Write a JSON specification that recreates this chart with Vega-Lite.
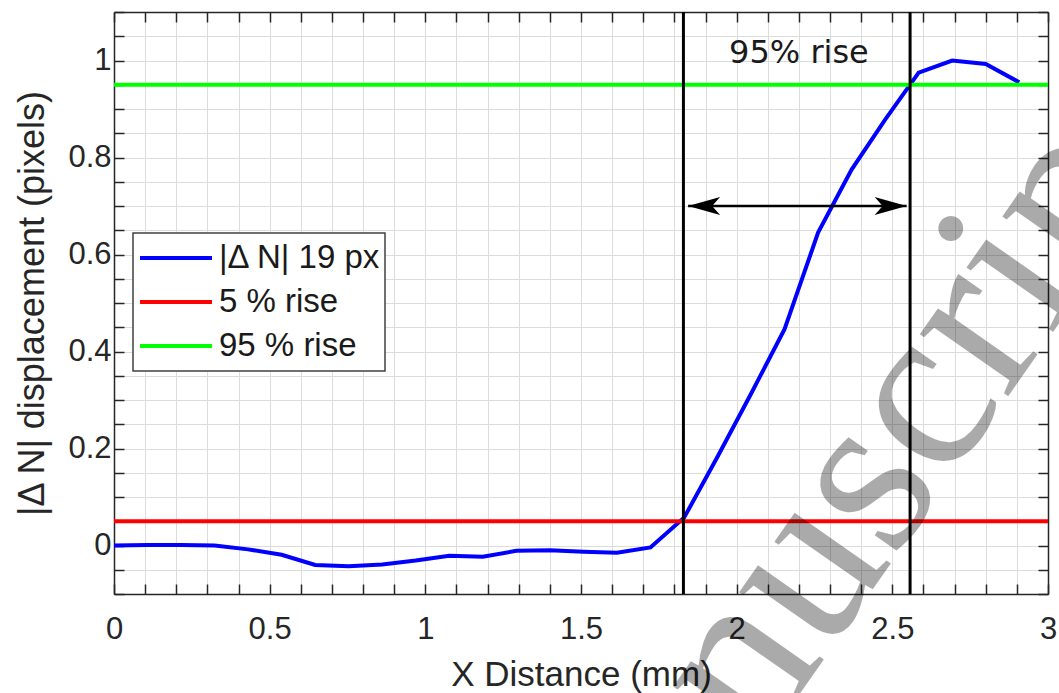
{
  "$schema": "https://vega.github.io/schema/vega-lite/v6.json",
  "autosize": "none",
  "width": 934,
  "height": 582,
  "padding": {"left": 114, "top": 12, "right": 11, "bottom": 99},
  "background": "white",
  "config": {
    "view": {"stroke": null},
    "axis": {
      "labelFont": "Liberation Sans",
      "labelFontSize": 31,
      "labelColor": "#262626",
      "titleFont": "Liberation Sans",
      "titleFontSize": 35,
      "titleFontWeight": "normal",
      "titleColor": "#262626",
      "domainColor": "#262626",
      "domainWidth": 1.5,
      "tickColor": "#262626",
      "tickWidth": 1.5,
      "tickSize": -10,
      "gridColor": "#dcdcdc",
      "gridWidth": 1
    }
  },
  "datasets": {
    "curves": [
      {"series": "|Δ N| 19 px", "x": 0.0, "y": 0.0},
      {"series": "|Δ N| 19 px", "x": 0.1077, "y": 0.001},
      {"series": "|Δ N| 19 px", "x": 0.2154, "y": 0.001},
      {"series": "|Δ N| 19 px", "x": 0.3231, "y": 0.0},
      {"series": "|Δ N| 19 px", "x": 0.4308, "y": -0.008},
      {"series": "|Δ N| 19 px", "x": 0.5385, "y": -0.019},
      {"series": "|Δ N| 19 px", "x": 0.6462, "y": -0.04},
      {"series": "|Δ N| 19 px", "x": 0.7538, "y": -0.043},
      {"series": "|Δ N| 19 px", "x": 0.8615, "y": -0.039},
      {"series": "|Δ N| 19 px", "x": 0.9692, "y": -0.031},
      {"series": "|Δ N| 19 px", "x": 1.0769, "y": -0.021},
      {"series": "|Δ N| 19 px", "x": 1.1846, "y": -0.023},
      {"series": "|Δ N| 19 px", "x": 1.2923, "y": -0.011},
      {"series": "|Δ N| 19 px", "x": 1.4, "y": -0.01},
      {"series": "|Δ N| 19 px", "x": 1.5077, "y": -0.013},
      {"series": "|Δ N| 19 px", "x": 1.6154, "y": -0.015},
      {"series": "|Δ N| 19 px", "x": 1.7231, "y": -0.004},
      {"series": "|Δ N| 19 px", "x": 1.8308, "y": 0.057},
      {"series": "|Δ N| 19 px", "x": 1.9385, "y": 0.183},
      {"series": "|Δ N| 19 px", "x": 2.0462, "y": 0.313},
      {"series": "|Δ N| 19 px", "x": 2.1538, "y": 0.446},
      {"series": "|Δ N| 19 px", "x": 2.2615, "y": 0.645},
      {"series": "|Δ N| 19 px", "x": 2.3692, "y": 0.775},
      {"series": "|Δ N| 19 px", "x": 2.4769, "y": 0.878},
      {"series": "|Δ N| 19 px", "x": 2.5846, "y": 0.975},
      {"series": "|Δ N| 19 px", "x": 2.6923, "y": 1.0},
      {"series": "|Δ N| 19 px", "x": 2.8, "y": 0.993},
      {"series": "|Δ N| 19 px", "x": 2.9077, "y": 0.955},
      {"series": "5 % rise", "x": 0.0, "y": 0.05},
      {"series": "5 % rise", "x": 3.0, "y": 0.05},
      {"series": "95 % rise", "x": 0.0, "y": 0.95},
      {"series": "95 % rise", "x": 3.0, "y": 0.95}
    ],
    "verticals": [{"x": 1.829}, {"x": 2.557}],
    "arrow": [{"x": 1.844, "x2": 2.546, "y": 0.7}],
    "heads": [
      {"x": 1.844, "y": 0.7, "side": "left"},
      {"x": 2.546, "y": 0.7, "side": "right"}
    ],
    "label": [{"x": 2.2, "y": 0.994, "text": "95% rise"}],
    "watermark": [{"x": 2.4787, "y": -0.0527, "text": "Manuscript"}]
  },
  "layer": [
    {
      "data": {"name": "curves"},
      "mark": {"type": "line", "strokeWidth": 4, "clip": true},
      "encoding": {
        "x": {
          "field": "x", "type": "quantitative",
          "scale": {"domain": [0, 3], "nice": false, "zero": false},
          "axis": {
            "orient": "bottom",
            "values": [0,0.1,0.2,0.3,0.4,0.5,0.6,0.7,0.8,0.9,1,1.1,1.2,1.3,1.4,1.5,1.6,1.7,1.8,1.9,2,2.1,2.2,2.3,2.4,2.5,2.6,2.7,2.8,2.9,3],
            "labelExpr": "abs(datum.value*2 - round(datum.value*2)) < 0.001 ? format(datum.value, '~g') : ''",
            "labelPadding": 30,
            "labelFlush": false,
            "labelOverlap": false,
            "grid": true,
            "title": "X Distance (mm)",
            "titlePadding": 13
          }
        },
        "y": {
          "field": "y", "type": "quantitative",
          "scale": {"domain": [-0.1, 1.1], "nice": false, "zero": false},
          "axis": {
            "orient": "left",
            "values": [-0.1,-0.05,0,0.05,0.1,0.15,0.2,0.25,0.3,0.35,0.4,0.45,0.5,0.55,0.6,0.65,0.7,0.75,0.8,0.85,0.9,0.95,1,1.05,1.1],
            "labelExpr": "(datum.value > -0.001 && abs(datum.value*5 - round(datum.value*5)) < 0.001) ? format(datum.value, '~g') : ''",
            "labelPadding": 13,
            "labelFlush": false,
            "labelOverlap": false,
            "grid": true,
            "title": "|Δ N| displacement (pixels)",
            "titleFontSize": 36,
            "titlePadding": 16
          }
        },
        "color": {
          "field": "series", "type": "nominal",
          "scale": {
            "domain": ["|Δ N| 19 px", "5 % rise", "95 % rise"],
            "range": ["#0000ff", "#ff0000", "#00ff00"]
          },
          "legend": {
            "orient": "none",
            "legendX": 19,
            "legendY": 221,
            "title": null,
            "symbolType": "stroke",
            "symbolSize": 5184,
            "symbolStrokeWidth": 4,
            "symbolOffset": 2,
            "labelFont": "Liberation Sans",
            "labelFontSize": 33,
            "labelColor": "#1a1a1a",
            "labelOffset": 5,
            "labelLimit": 400,
            "clipHeight": 44,
            "rowPadding": 0,
            "padding": 3,
            "strokeColor": "#404040",
            "fillColor": "white",
            "encode": {"legend": {"update": {"strokeWidth": {"value": 1.5}}}}
          }
        }
      }
    },
    {
      "data": {"name": "verticals"},
      "mark": {"type": "rule", "color": "black", "strokeWidth": 3},
      "encoding": {
        "x": {"field": "x", "type": "quantitative", "axis": null}
      }
    },
    {
      "data": {"name": "arrow"},
      "mark": {"type": "rule", "color": "black", "strokeWidth": 2.5},
      "encoding": {
        "x": {"field": "x", "type": "quantitative", "axis": null},
        "x2": {"field": "x2"},
        "y": {"field": "y", "type": "quantitative", "axis": null}
      }
    },
    {
      "data": {"name": "heads"},
      "transform": [{"filter": "datum.side == 'left'"}],
      "mark": {"type": "point", "shape": "M0,0L2,-0.56L1.5,0L2,0.56Z", "size": 1024, "filled": true, "color": "black", "opacity": 1},
      "encoding": {
        "x": {"field": "x", "type": "quantitative", "axis": null},
        "y": {"field": "y", "type": "quantitative", "axis": null}
      }
    },
    {
      "data": {"name": "heads"},
      "transform": [{"filter": "datum.side == 'right'"}],
      "mark": {"type": "point", "shape": "M0,0L-2,-0.56L-1.5,0L-2,0.56Z", "size": 1024, "filled": true, "color": "black", "opacity": 1},
      "encoding": {
        "x": {
          "field": "x", "type": "quantitative",
          "axis": {
            "orient": "top",
            "values": [0,0.1,0.2,0.3,0.4,0.5,0.6,0.7,0.8,0.9,1,1.1,1.2,1.3,1.4,1.5,1.6,1.7,1.8,1.9,2,2.1,2.2,2.3,2.4,2.5,2.6,2.7,2.8,2.9,3],
            "labels": false,
            "grid": false,
            "title": null
          }
        },
        "y": {
          "field": "y", "type": "quantitative",
          "axis": {
            "orient": "right",
            "values": [-0.1,-0.05,0,0.05,0.1,0.15,0.2,0.25,0.3,0.35,0.4,0.45,0.5,0.55,0.6,0.65,0.7,0.75,0.8,0.85,0.9,0.95,1,1.05,1.1],
            "labels": false,
            "grid": false,
            "title": null
          }
        }
      }
    },
    {
      "data": {"name": "label"},
      "mark": {"type": "text", "font": "DejaVu Sans", "fontSize": 32, "color": "#1a1a1a", "align": "center", "baseline": "alphabetic"},
      "encoding": {
        "x": {"field": "x", "type": "quantitative", "axis": null},
        "y": {"field": "y", "type": "quantitative", "axis": null},
        "text": {"field": "text"}
      }
    },
    {
      "data": {"name": "watermark"},
      "mark": {"type": "text", "font": "Liberation Serif", "fontSize": 235, "color": "black", "opacity": 0.33, "align": "center", "baseline": "alphabetic", "angle": 305, "clip": false},
      "encoding": {
        "x": {"field": "x", "type": "quantitative", "axis": null},
        "y": {"field": "y", "type": "quantitative", "axis": null},
        "text": {"field": "text"}
      }
    }
  ]
}
